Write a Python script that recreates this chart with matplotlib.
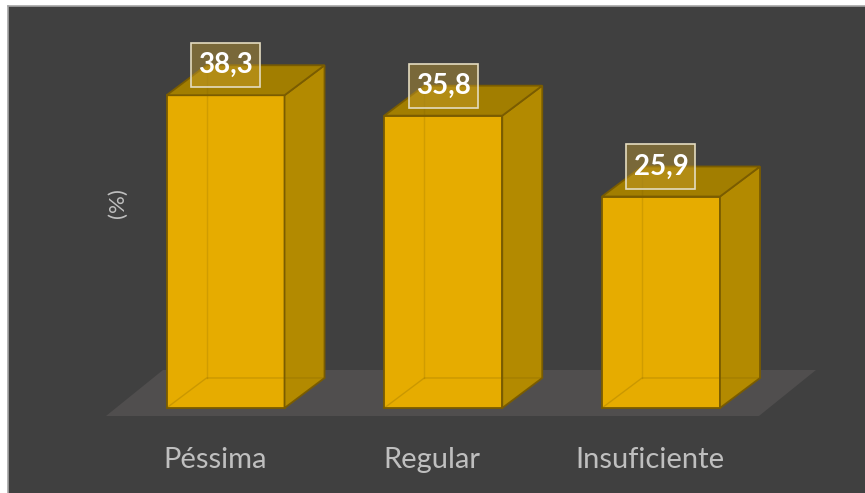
import matplotlib.pyplot as plt
from matplotlib.patches import Polygon, Rectangle

# dados
categories = ['Péssima', 'Regular', 'Insuficiente']
values = [38.3, 35.8, 25.9]
value_labels = ['38,3', '35,8', '25,9']

bg = '#404040'
front_col = '#E6AC00'
side_col = '#B38A00'
top_col = '#A27E00'
edge_col = '#7A5C00'
floor_col = '#504E4E'
text_col = '#BFBFBF'

plt.rcParams['font.family'] = ['Lato', 'DejaVu Sans']

fig = plt.figure(figsize=(8.65, 4.93), dpi=100)
fig.patch.set_facecolor('white')
ax = fig.add_axes([8 / 865, 0, 857 / 865, 487 / 493])
ax.set_facecolor(bg)
ax.set_xlim(-0.999, 2.937)
ax.set_ylim(-10.41, 49.23)
ax.set_xticks([])
ax.set_yticks([])
for s in ['bottom', 'right']:
    ax.spines[s].set_visible(False)
for s in ['top', 'left']:
    ax.spines[s].set_color('#A6A6A6')
    ax.spines[s].set_linewidth(1.2)

w = 0.542      # largura da barra
dx, dy = 0.1837, 3.674   # profundidade 3D
fdx, fdy = 0.2618, 5.634

# piso
fl, fr, fy = -0.549, 2.45, -0.98
ax.add_patch(Polygon([(fl, fy), (fr, fy), (fr + fdx, fy + fdy), (fl + fdx, fy + fdy)],
                     closed=True, facecolor=floor_col, edgecolor='none', zorder=1))

for i, (cat, v, lab) in enumerate(zip(categories, values, value_labels)):
    x0, x1 = i - w / 2, i + w / 2
    # frente
    ax.add_patch(Polygon([(x0, 0), (x1, 0), (x1, v), (x0, v)], closed=True,
                         facecolor=front_col, edgecolor=edge_col, lw=1.3, zorder=3))
    # lateral
    ax.add_patch(Polygon([(x1, 0), (x1 + dx, dy), (x1 + dx, v + dy), (x1, v)], closed=True,
                         facecolor=side_col, edgecolor=edge_col, lw=1.3, zorder=3))
    # topo
    ax.add_patch(Polygon([(x0, v), (x1, v), (x1 + dx, v + dy), (x0 + dx, v + dy)], closed=True,
                         facecolor=top_col, edgecolor=edge_col, lw=1.3, zorder=3))
    # arestas escondidas (transparencia)
    ax.plot([x0, x0 + dx, x1 + dx], [0, dy, dy], color=edge_col, lw=1, alpha=0.25, zorder=4)
    ax.plot([x0 + dx, x0 + dx], [dy, v + dy], color=edge_col, lw=1, alpha=0.2, zorder=4)

    # rotulo de valor
    bw, bh = 0.317, 5.39
    by = v + 0.98
    ax.add_patch(Rectangle((i - bw / 2, by), bw, bh, facecolor='#C9A030', alpha=0.42,
                           edgecolor='none', zorder=5))
    ax.add_patch(Rectangle((i - bw / 2, by), bw, bh, facecolor='none',
                           edgecolor='#E4DCC0', lw=1.2, zorder=6))
    ax.text(i, by + bh / 2, lab, ha='center', va='center', color='white',
            fontsize=20, fontweight='bold', zorder=7)

    # categoria
    ax.text(i - 0.05, -7.35, cat, ha='center', va='baseline', color=text_col, fontsize=21)

ax.text(-0.494, 25.1, '(%)', rotation=90, ha='center', va='center', color=text_col, fontsize=16)

fig.savefig('out.png', dpi=100, facecolor=fig.get_facecolor())
